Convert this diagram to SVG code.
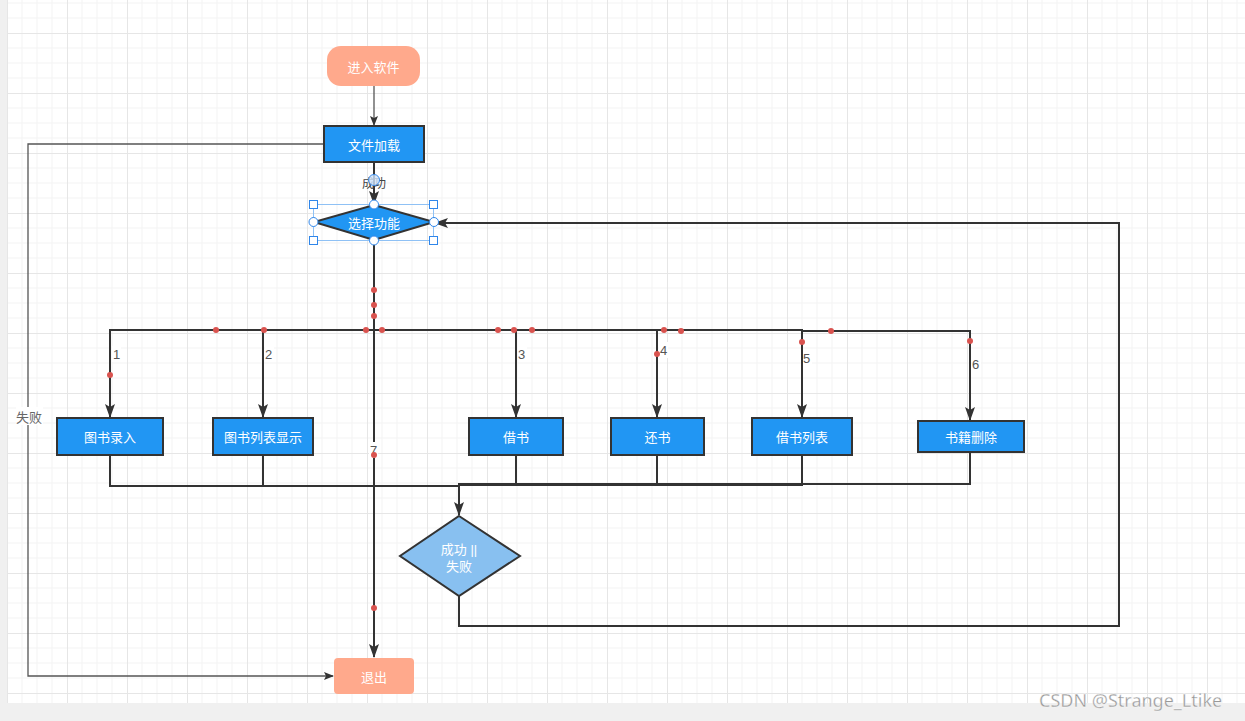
<svg xmlns="http://www.w3.org/2000/svg" width="1245" height="721" viewBox="0 0 1245 721">
<defs>
<style>
.node{stroke:#333;stroke-width:2}
.blue{fill:#2196f3}
.salmon{fill:#ffa98c}
.lbl{font-family:"Noto Sans CJK SC","Noto Sans",sans-serif;font-size:13px;fill:#fff;text-anchor:middle;dominant-baseline:central}
.edge{fill:none;stroke:#333;stroke-width:2}
.thin{fill:none;stroke:#555;stroke-width:1.3}
.num{font-family:"Liberation Sans",Arial,sans-serif;font-size:13px;fill:#555;dominant-baseline:central}
.dot{fill:#d9534f}
.hs{fill:#fff;stroke:#2f86ea;stroke-width:1}
</style>
<pattern id="grid" x="7" y="33" width="60" height="60" patternUnits="userSpaceOnUse">
<path d="M15,0V60M30,0V60M45,0V60M0,15H60M0,30H60M0,45H60" stroke="#f3f3f3" stroke-width="1" fill="none"/>
<path d="M0.5,0V60M0,0.5H60" stroke="#e6e6e6" stroke-width="1" fill="none"/>
</pattern>
<marker id="arr" markerUnits="userSpaceOnUse" markerWidth="14" markerHeight="10" refX="13" refY="5" orient="auto">
<path d="M0,0L14,5L0,10L3,5Z" fill="#333"/>
</marker>
<marker id="arrs" markerUnits="userSpaceOnUse" markerWidth="10" markerHeight="8" refX="9" refY="4" orient="auto">
<path d="M0,0L10,4L0,8L2,4Z" fill="#333"/>
</marker>
</defs>
<rect width="1245" height="721" fill="#fff"/>
<rect x="7" y="0" width="1238" height="703" fill="url(#grid)"/>
<rect x="0" y="0" width="7" height="721" fill="#f0f0f0"/>
<rect x="0" y="703" width="1245" height="18" fill="#f0f0f0"/>

<g id="connectors">
<path class="thin" d="M374,86V125" marker-end="url(#arrs)"/>
<path class="edge" d="M374,163V204" marker-end="url(#arr)"/>
<path class="thin" d="M324,144H28V676H333" marker-end="url(#arrs)"/>
<path class="edge" d="M374,241V657" marker-end="url(#arr)"/>
<path class="edge" d="M374,330H110V417" marker-end="url(#arr)"/>
<path class="edge" d="M374,330H263V417" marker-end="url(#arr)"/>
<path class="edge" d="M374,330H516V417" marker-end="url(#arr)"/>
<path class="edge" d="M374,330H657V417" marker-end="url(#arr)"/>
<path class="edge" d="M374,330H802V417" marker-end="url(#arr)"/>
<path class="edge" d="M802,331H970V420" marker-end="url(#arr)"/>
<path class="edge" d="M110,455V486H459"/>
<path class="edge" d="M263,455V486H459"/>
<path class="edge" d="M516,455V485H459"/>
<path class="edge" d="M657,455V485H459"/>
<path class="edge" d="M802,455V485H459"/>
<path class="edge" d="M970,452V484H459V515" marker-end="url(#arr)"/>
<path class="edge" d="M459,596V626H1119V223H435" marker-end="url(#arr)"/>
<rect x="16" y="407" width="27" height="18" fill="#fff"/>
<text x="29" y="416" class="num" text-anchor="middle" style="font-family:'Noto Sans CJK SC',sans-serif;fill:#666">失败</text>
<text x="374" y="182" class="num" text-anchor="middle" style="font-family:'Noto Sans CJK SC',sans-serif;fill:#444;font-size:12px">成功</text>
<rect x="112" y="346" width="9" height="16" fill="#fff"/><text x="113" y="354" class="num">1</text>
<rect x="265" y="346" width="9" height="16" fill="#fff"/><text x="265" y="354" class="num">2</text>
<rect x="518" y="346" width="9" height="16" fill="#fff"/><text x="518" y="354" class="num">3</text>
<rect x="659" y="342" width="9" height="16" fill="#fff"/><text x="660" y="350" class="num">4</text>
<rect x="803" y="350" width="9" height="16" fill="#fff"/><text x="803" y="358" class="num">5</text>
<rect x="972" y="356" width="9" height="16" fill="#fff"/><text x="972" y="364" class="num">6</text>
<rect x="369" y="442" width="9" height="16" fill="#fff"/><text x="370" y="450" class="num">7</text>
<g id="waypoints">
<circle class="dot" cx="374" cy="290" r="3"/><circle class="dot" cx="374" cy="305" r="3"/><circle class="dot" cx="374" cy="316" r="3"/>
<circle class="dot" cx="374" cy="455" r="3"/><circle class="dot" cx="374" cy="608" r="3"/>
<circle class="dot" cx="216" cy="330" r="3"/><circle class="dot" cx="264" cy="330" r="3"/><circle class="dot" cx="366" cy="330" r="3"/>
<circle class="dot" cx="382" cy="330" r="3"/><circle class="dot" cx="498" cy="330" r="3"/><circle class="dot" cx="514" cy="330" r="3"/>
<circle class="dot" cx="532" cy="330" r="3"/><circle class="dot" cx="664" cy="330" r="3"/><circle class="dot" cx="681" cy="331" r="3"/>
<circle class="dot" cx="831" cy="331" r="3"/><circle class="dot" cx="110" cy="375" r="3"/><circle class="dot" cx="657" cy="354" r="3"/>
<circle class="dot" cx="802" cy="342" r="3"/><circle class="dot" cx="970" cy="341" r="3"/>
</g>
</g>

<g id="start"><rect class="salmon" x="327" y="46" width="93" height="40" rx="14"/><text class="lbl" x="373.5" y="66">进入软件</text></g>
<g id="load"><rect class="node blue" x="324" y="126" width="100" height="36"/><text class="lbl" x="374" y="144">文件加载</text></g>
<g id="choose">
<polygon class="node blue" points="374,205 434,222 374,240 314,222"/>
<text class="lbl" x="374" y="222">选择功能</text>
<rect x="313.5" y="204.5" width="120" height="36" fill="none" stroke="#8fc1f5" stroke-width="1"/>
<rect class="hs" x="309.5" y="200.5" width="8" height="8"/><rect class="hs" x="429.5" y="200.5" width="8" height="8"/>
<rect class="hs" x="309.5" y="236.5" width="8" height="8"/><rect class="hs" x="429.5" y="236.5" width="8" height="8"/>
<circle class="hs" cx="374" cy="204.5" r="4.5"/><circle class="hs" cx="374" cy="240.5" r="4.5"/>
<circle class="hs" cx="313.5" cy="222" r="4.5"/><circle class="hs" cx="434" cy="222" r="4.5"/>
<circle cx="374" cy="180" r="5.5" fill="#cfe4fb" fill-opacity="0.8" stroke="#3a8ae8" stroke-width="1"/>
</g>
<g id="n1"><rect class="node blue" x="57" y="418" width="106" height="37"/><text class="lbl" x="110" y="436.5">图书录入</text></g>
<g id="n2"><rect class="node blue" x="213" y="418" width="100" height="37"/><text class="lbl" x="263" y="436.5">图书列表显示</text></g>
<g id="n3"><rect class="node blue" x="469" y="418" width="94" height="37"/><text class="lbl" x="516" y="436.5">借书</text></g>
<g id="n4"><rect class="node blue" x="611" y="418" width="93" height="37"/><text class="lbl" x="657.5" y="436.5">还书</text></g>
<g id="n5"><rect class="node blue" x="752" y="418" width="100" height="37"/><text class="lbl" x="802" y="436.5">借书列表</text></g>
<g id="n6"><rect class="node blue" x="918" y="421" width="106" height="31"/><text class="lbl" x="971" y="436.5">书籍删除</text></g>
<g id="result">
<polygon points="459,516 520,556 459,596 400,556" fill="#88c0f0" stroke="#333" stroke-width="2"/>
<text class="lbl" x="459" y="549" style="font-family:'Liberation Sans','Noto Sans CJK SC',sans-serif">成功 ||</text><text class="lbl" x="459" y="565">失败</text>
</g>
<g id="exit"><rect class="salmon" x="334" y="658" width="80" height="36" rx="4"/><text class="lbl" x="374" y="676">退出</text></g>
<text x="1039" y="707" font-family="Noto Sans, sans-serif" font-size="18" fill="#999" stroke="#fff" stroke-width="0.3">CSDN @Strange_Ltike</text>
</svg>
